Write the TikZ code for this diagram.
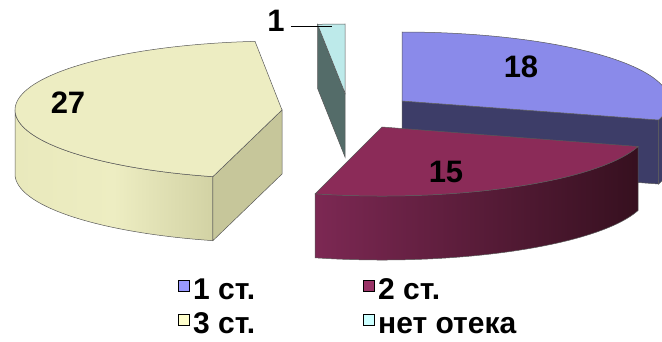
\documentclass[tikz,border=0pt]{standalone}
\usepackage{fontspec}
\setmainfont{Liberation Sans}
\usetikzlibrary{calc}
\definecolor{topA}{HTML}{8A8AEA}
\definecolor{sideA}{HTML}{3D3D68}
\definecolor{topB}{HTML}{8B2B58}
\definecolor{rimBl}{HTML}{7C2853}
\definecolor{rimBr}{HTML}{36101F}
\definecolor{topC}{HTML}{EDEDC2}
\definecolor{rimCl}{HTML}{E9E9BC}
\definecolor{rimCr}{HTML}{D2D2A4}
\definecolor{sideC}{HTML}{C6C69A}
\definecolor{topD}{HTML}{BDEAEA}
\definecolor{sideD}{HTML}{546C69}
\definecolor{keyA}{HTML}{9999FF}
\definecolor{keyB}{HTML}{993366}
\definecolor{keyC}{HTML}{FFFFCC}
\definecolor{keyD}{HTML}{CCFFFF}
\begin{document}
\begin{tikzpicture}[x=1pt,y=1pt,
    edge/.style={draw=black!65, line width=0.5pt},
    rim/.style={x radius=267pt, y radius=69pt},
    val/.style={font=\fontsize{31}{31}\selectfont\bfseries, inner sep=0pt},
    key/.style={draw=black, line width=0.8pt, minimum size=11pt, inner sep=0pt},
    keytext/.style={font=\fontsize{30}{30}\selectfont\bfseries, anchor=base west, inner sep=0pt, text depth=0pt}]
    \useasboundingbox (0,0) rectangle (662,341);
    \def\ra{267pt } \def\rb{69pt} \def\hh{64}
    % 1 st. (back right)
    \coordinate (c1) at (402,240);
    \filldraw[edge, fill=sideA] (c1) -- ($(c1)+(-16:\ra and \rb)$) -- ++(0,-\hh) -- ($(c1)+(0,-\hh)$) -- cycle;
    \filldraw[edge, fill=sideA] ($(c1)+(-16:\ra and \rb)$) arc[rim, start angle=-16, end angle=0] -- ++(0,-\hh) arc[rim, start angle=0, end angle=-16] -- cycle;
    \filldraw[edge, fill=topA] (c1) -- ($(c1)+(90:\ra and \rb)$) arc[rim, start angle=90, end angle=-16] -- cycle;
    % no oedema
    \coordinate (c4) at (345,248);
    \filldraw[edge, fill=sideD] (c4) -- ($(c4)+(95.9:\ra and \rb)$) -- ++(0,-\hh) -- ($(c4)+(0,-\hh)$) -- cycle;
    \filldraw[edge, fill=topD] (c4) -- ($(c4)+(90:\ra and \rb)$) arc[rim, start angle=90, end angle=95.9] -- cycle;
    % 3 st.
    \coordinate (c3) at (282,231);
    \shadedraw[edge, left color=rimCl, right color=rimCr, middle color=topC] ($(c3)+(180:\ra and \rb)$) arc[rim, start angle=180, end angle=255] -- ++(0,-\hh) arc[rim, start angle=255, end angle=180] -- cycle;
    \filldraw[edge, fill=sideC] (c3) -- ($(c3)+(255:\ra and \rb)$) -- ++(0,-\hh) -- ($(c3)+(0,-\hh)$) -- cycle;
    \filldraw[edge, fill=topC] (c3) -- ($(c3)+(95.8:\ra and \rb)$) arc[rim, start angle=95.8, end angle=255] -- cycle;
    % 2 st. (front)
    \coordinate (c2) at (382,214);
    \shadedraw[edge, left color=rimBl, right color=rimBr] ($(c2)+(255.5:\ra and \rb)$) arc[rim, start angle=255.5, end angle=343.6] -- ++(0,-\hh) arc[rim, start angle=343.6, end angle=255.5] -- cycle;
    \filldraw[edge, fill=topB] (c2) -- ($(c2)+(255.5:\ra and \rb)$) arc[rim, start angle=255.5, end angle=343.6] -- cycle;
    % values
    \node[val] (v1) at (521,274) {18};
    \node[val] (v2) at (446,169) {15};
    \node[val] (v3) at (68,238) {27};
    \node[val] (v4) at (276,320) {1};
    \coordinate (lead) at (332,314);
    \draw[line width=1pt] ($(v4.east |- lead)+(6,0)$) -- (lead);
    % legend
    \foreach \n/\x/\y/\c/\t in {a/178/42/keyA/1 ст., b/363/42/keyB/2 ст., c/178/8/keyC/3 ст., d/363/8/keyD/нет отека}{
        \node[key, fill=\c, anchor=south west] (sq\n) at (\x,\y+7) {};
        \node[keytext] (t\n) at (\x+15,\y) {\t};
    }
\end{tikzpicture}
\end{document}
